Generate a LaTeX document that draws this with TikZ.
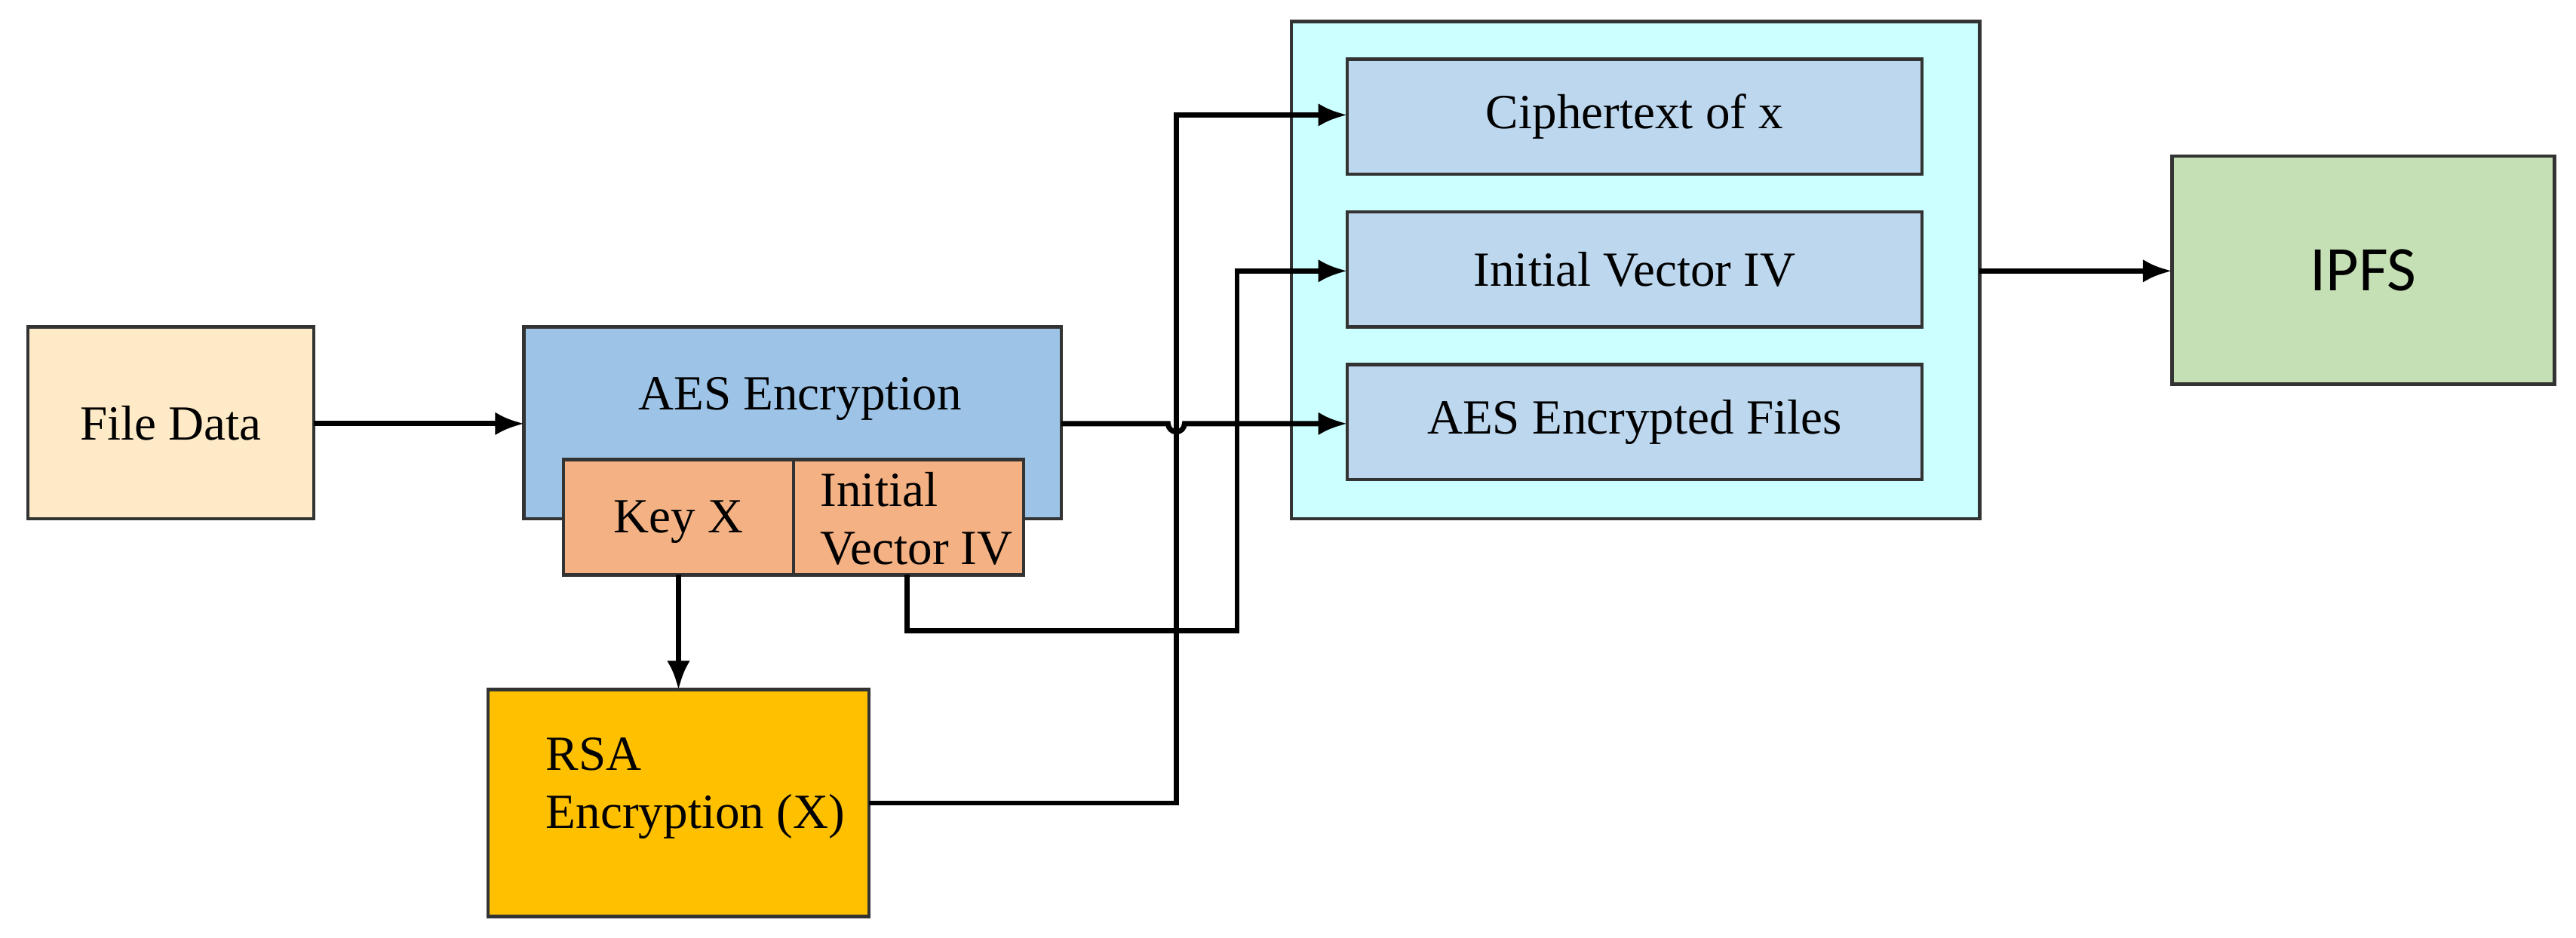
\documentclass[tikz,border=0pt]{standalone}
\usepackage{fontspec}
\setmainfont{Liberation Serif}
\newfontfamily\sansf{Carlito}
\usetikzlibrary{arrows.meta}
\begin{document}
\begin{tikzpicture}[x=0.01cm,y=-0.01cm,
  box/.style={draw=black!80,line width=0.6pt,font=\fontsize{8.5}{10}\selectfont},
  arr/.style={line width=0.9pt,-{Latex[length=5pt,width=4pt]}},
  ln/.style={line width=0.9pt}]
\useasboundingbox (0,0) rectangle (1568,571);
\node[box,fill=white] at (0,0) {};
\path[fill=white] (0,0) rectangle (1568,571);
\draw[box,fill=yellow!25!orange!20] (17,199) rectangle (191,316) node[midway] (fd) {File Data};
\coordinate (fdr) at (191,258);
\draw[box,fill={rgb,255:red,157;green,195;blue,230}] (319,199) rectangle (646,316);
\node[font=\fontsize{8.5}{10}\selectfont] (aes) at (487,243) {AES Encryption};
\coordinate (aesl) at (319,258); \coordinate (aesr) at (646,258);
\draw[box,fill={rgb,255:red,244;green,177;blue,131}] (343,280) rectangle (483,350);
\node[font=\fontsize{8.5}{10}\selectfont] (key) at (413,318) {Key X};
\draw[box,fill={rgb,255:red,244;green,177;blue,131}] (483,280) rectangle (623,350);
\node[font=\fontsize{8.5}{10}\selectfont,align=left,anchor=west] (iv) at (487,316) {Initial\\Vector IV};
\draw[box,fill={rgb,255:red,255;green,192;blue,0}] (297,420) rectangle (529,558);
\node[font=\fontsize{8.5}{10}\selectfont,align=left,anchor=west] (rsa) at (320,480) {RSA\\Encryption (X)};
\draw[box,fill={rgb,255:red,204;green,255;blue,255}] (786,13) rectangle (1205,316);
\draw[box,fill={rgb,255:red,189;green,215;blue,238}] (820,36) rectangle (1170,106) node[midway] (c1) {Ciphertext of x};
\draw[box,fill={rgb,255:red,189;green,215;blue,238}] (820,129) rectangle (1170,199) node[midway] (c2) {Initial Vector IV};
\draw[box,fill={rgb,255:red,189;green,215;blue,238}] (820,222) rectangle (1170,292) node[midway] (c3) {AES Encrypted Files};
\draw[box,fill={rgb,255:red,197;green,224;blue,180}] (1322,95) rectangle (1555,234) node[midway,font=\sansf\fontsize{11}{13}\selectfont] (ipfs) {IPFS};
\draw[arr] (fdr) -- (aesl);
\draw[arr] (aesr) -- (711,258) arc[start angle=180,end angle=0,radius=5] -- (820,258);
\draw[arr] (413,350) -- (413,420);
\draw[arr] (552,350) -- (552,384) -- (753,384) -- (753,165) -- (820,165);
\draw[arr] (529,489) -- (716,489) -- (716,70) -- (820,70);
\draw[arr] (1205,165) -- (1322,165);
\end{tikzpicture}
\end{document}
